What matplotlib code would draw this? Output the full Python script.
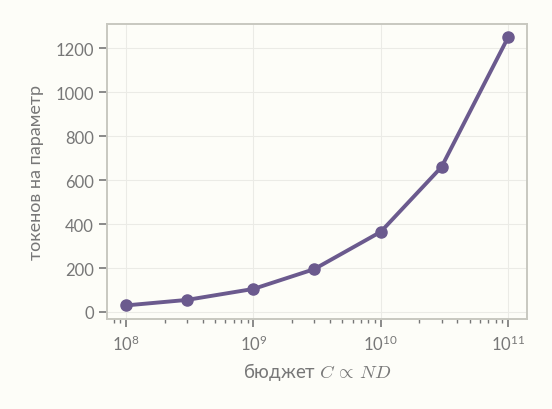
import numpy as np
import matplotlib
matplotlib.use("Agg")
from matplotlib import pyplot as plt

# compute budget (FLOPs) vs tokens per parameter
budgets = [1e8, 3e8, 1e9, 3e9, 1e10, 3e10, 1e11]
tokens_per_param = [30, 55, 105, 195, 365, 660, 1250]

bg = "#fdfdf8"
text_gray = "#777777"
line_color = "#6b5a8e"

plt.rcParams['font.family'] = ['Lato', 'DejaVu Sans']
plt.rcParams['mathtext.fontset'] = 'cm'

fig = plt.figure(figsize=(5.52, 4.10), dpi=100, facecolor=bg)
ax = fig.add_axes([0.194, 0.22, 0.761, 0.719])
ax.set_facecolor(bg)

ax.plot(budgets, tokens_per_param, color=line_color, lw=2.8,
        marker='o', markersize=8, zorder=3)
ax.set_xscale('log')

ax.grid(True, which='major', color='#ebebe6', lw=0.8)
ax.set_yticks([0, 200, 400, 600, 800, 1000, 1200])

for s in ax.spines.values():
    s.set_color('#c8c8c0')
    s.set_linewidth(1.4)

ax.tick_params(which='both', colors=text_gray, labelcolor=text_gray,
               labelsize=12)
ax.tick_params(which='major', length=6, width=1.2)
ax.tick_params(which='minor', length=3, width=1.0)
ax.tick_params(axis='x', which='major', pad=5)

ax.set_xlabel(r"бюджет $C\,\propto\,ND$", color=text_gray, fontsize=13.5, labelpad=5)
ax.set_ylabel("токенов на параметр", color=text_gray, fontsize=13, labelpad=8)

fig.savefig("out.png", dpi=100, facecolor=bg)
